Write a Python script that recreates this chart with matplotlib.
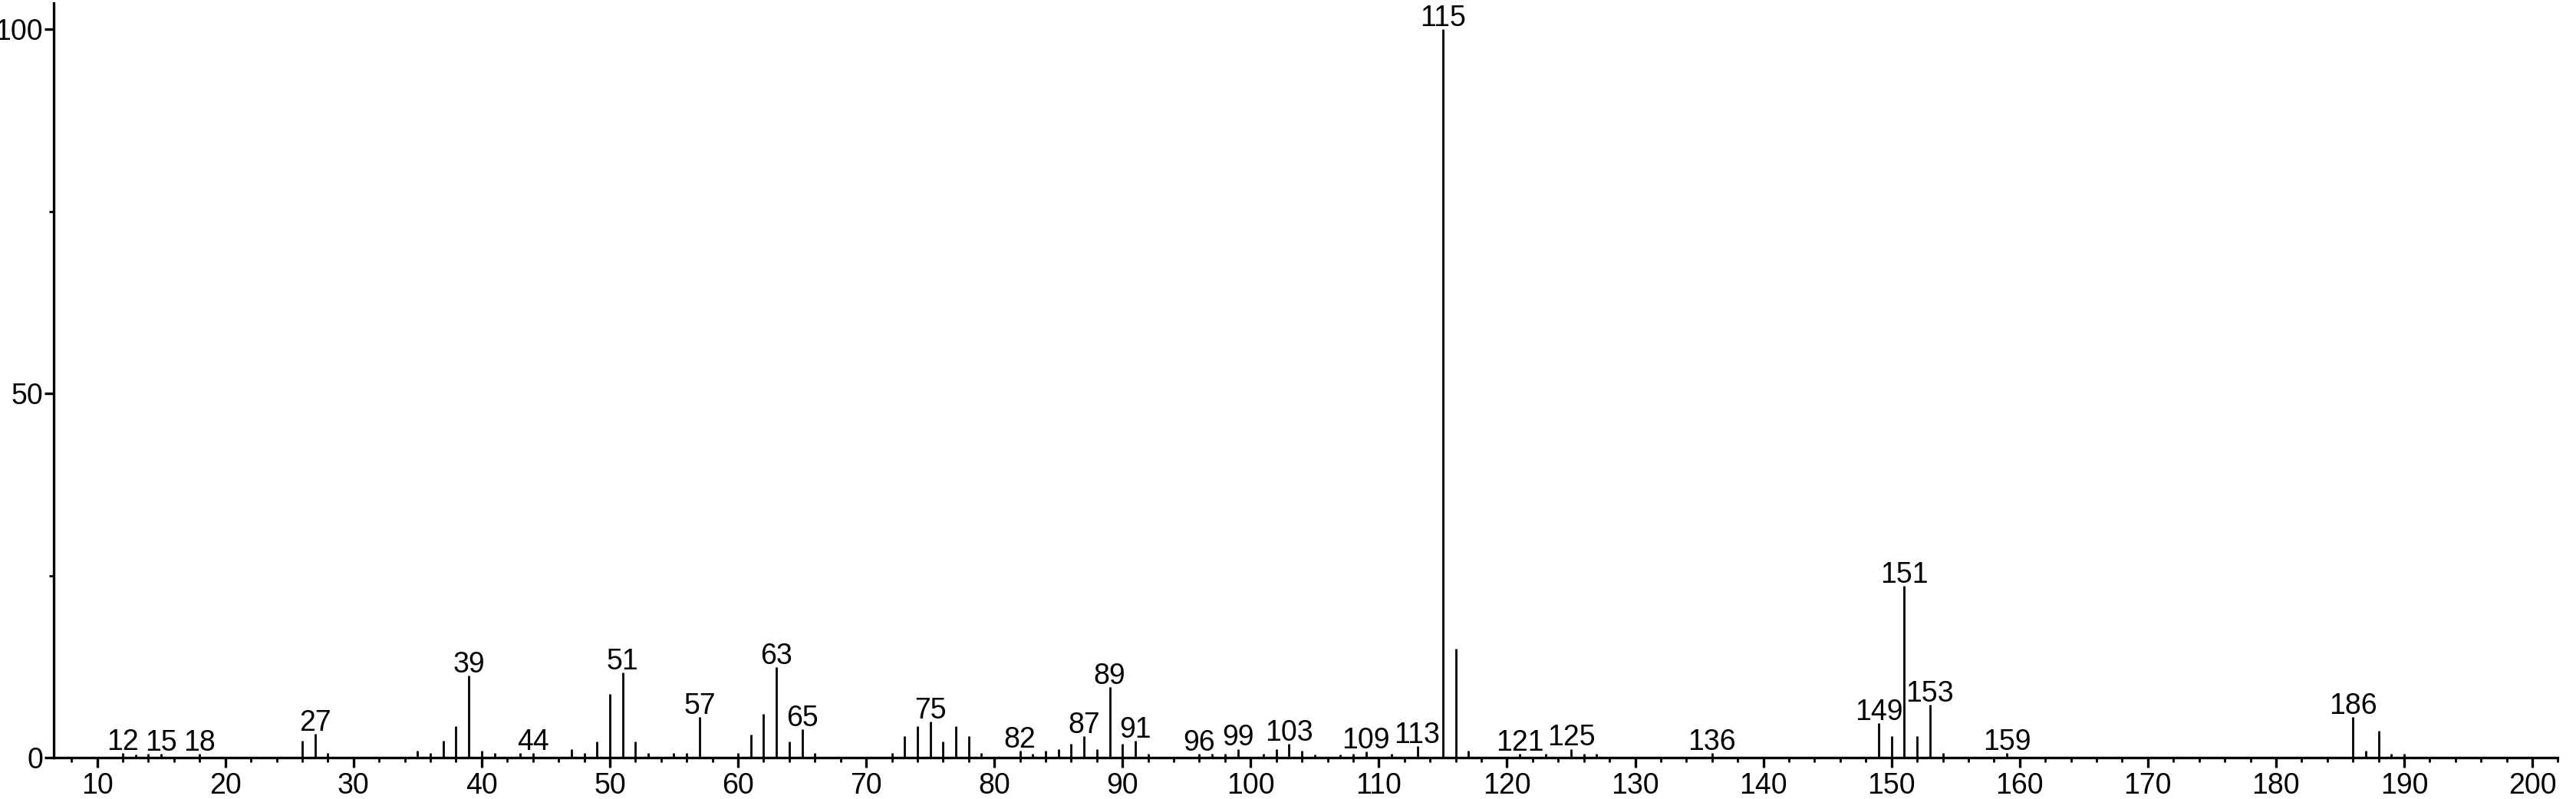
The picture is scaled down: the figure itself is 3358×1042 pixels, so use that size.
import matplotlib
matplotlib.use("Agg")
import matplotlib.pyplot as plt
from matplotlib.ticker import MultipleLocator

# m/z values and relative intensities
mz = [12, 13, 14, 15, 18, 26, 27, 28, 35, 36, 37, 38, 39, 40, 41, 43, 44,
      47, 48, 49, 50, 51, 52, 53, 55, 56, 57, 60, 61, 62, 63, 64, 65, 66,
      72, 73, 74, 75, 76, 77, 78, 79, 82, 83, 84, 85, 86, 87, 88, 89, 90, 91, 92,
      96, 97, 98, 99, 101, 102, 103, 104, 105, 107, 108, 109, 111, 113,
      115, 116, 117, 121, 123, 125, 126, 127, 136,
      149, 150, 151, 152, 153, 154, 159, 186, 187, 188, 189, 190]
intensity = [0.6, 0.4, 0.5, 0.5, 0.5, 2.3, 3.3, 0.6, 1.0, 0.6, 2.3, 4.3, 11.3, 1.0, 0.6, 0.6, 0.6,
             1.2, 0.6, 2.2, 8.7, 11.7, 2.2, 0.6, 0.6, 0.6, 5.6, 0.6, 3.2, 6.0, 12.4, 2.2, 3.9, 0.6,
             0.6, 2.9, 4.3, 4.9, 2.2, 4.3, 2.9, 0.6, 0.9, 0.5, 0.9, 1.2, 1.9, 2.9, 1.2, 9.7, 1.9, 2.3, 0.5,
             0.5, 0.5, 0.5, 1.2, 0.5, 1.2, 1.9, 0.9, 0.4, 0.4, 0.5, 0.8, 0.5, 1.6,
             100.0, 15.0, 0.9, 0.5, 0.5, 1.2, 0.5, 0.5, 0.6,
             4.7, 3.0, 23.6, 3.0, 7.3, 0.6, 0.6, 5.6, 1.0, 3.7, 0.5, 0.5]
labelled = [12, 15, 18, 27, 39, 44, 51, 57, 63, 65, 75, 82, 87, 89, 91, 96, 99,
            103, 109, 113, 115, 121, 125, 136, 149, 151, 153, 159, 186]

font = ['Liberation Sans Narrow', 'Liberation Sans', 'DejaVu Sans']
plt.rcParams['font.family'] = font

fig = plt.figure(figsize=(33.58, 10.42), dpi=100)
ax = fig.add_axes([0.0208, 0.0518, 0.9722, 0.9442])

ax.vlines(mz, 0, intensity, color='black', linewidth=2.0)

# peak labels sit just above the top of the line
for m, h in zip(mz, intensity):
    if m in labelled:
        ax.annotate(str(m), (m, h), xytext=(0, 3), textcoords='offset points',
                    ha='center', va='baseline', fontsize=27, clip_on=False)

ax.set_xlim(6.6, 202)
ax.set_ylim(0, 103.6)

ax.xaxis.set_major_locator(MultipleLocator(10))
ax.xaxis.set_minor_locator(MultipleLocator(2))
ax.set_yticks([0, 50, 100])
ax.yaxis.set_minor_locator(MultipleLocator(25))

for side in ['top', 'right']:
    ax.spines[side].set_visible(False)
for side in ['left', 'bottom']:
    ax.spines[side].set_linewidth(2.4)

ax.tick_params(axis='both', which='major', length=9, width=2.4, labelsize=27)
ax.tick_params(axis='both', which='minor', length=4.5, width=2.0)
ax.tick_params(axis='x', which='major', pad=5)
ax.tick_params(axis='y', which='major', pad=1)

fig.savefig('out.png', dpi=100)
